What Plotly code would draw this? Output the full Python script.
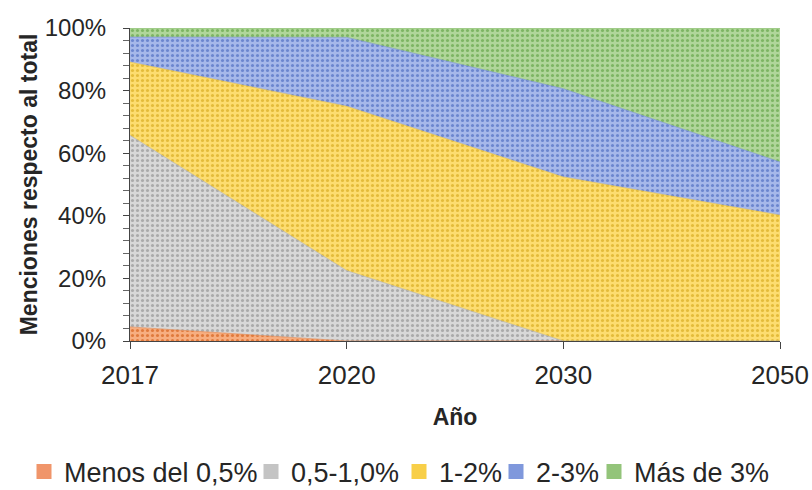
import plotly.graph_objects as go

# Share of mentions by range, per year (percent of total)
years = ["2017", "2020", "2030", "2050"]
series_names = ["Menos del 0,5%", "0,5-1,0%", "1-2%", "2-3%", "Más de 3%"]
menos_05 = [4.5, 0.0, 0.0, 0.0]
de_05_a_10 = [61.2, 22.5, 0.0, 0.0]
de_1_a_2 = [23.4, 52.5, 52.4, 40.2]
de_2_a_3 = [8.0, 22.0, 28.2, 17.0]
mas_de_3 = [2.9, 3.0, 19.4, 42.8]

y_ticks = [0, 20, 40, 60, 80, 100]
y_tick_labels = ["0%", "20%", "40%", "60%", "80%", "100%"]

values = [menos_05, de_05_a_10, de_1_a_2, de_2_a_3, mas_de_3]
bg_colors = ["#F7AE80", "#D8D8D8", "#FDDD70", "#A6B8EA", "#B0D69A"]
fg_colors = ["#E07A3C", "#AAAAAA", "#E4BC3A", "#6C86CF", "#7DB563"]
swatch_colors = ["#F0956A", "#C4C4C4", "#F8CF48", "#7F98DC", "#93C47A"]

# one single-entry legend per series, laid out in a row under the chart
legend_ids = ["legend", "legend2", "legend3", "legend4", "legend5"]
legend_left_px = [24, 251, 399, 496, 594]

font_family = "Liberation Sans, Arial, sans-serif"
ink = "#262626"

fig = go.Figure()
for name, vals, bg, fg, sw, lg in zip(series_names, values, bg_colors, fg_colors,
                                       swatch_colors, legend_ids):
    pattern = dict(shape=".", bgcolor=bg, fgcolor=fg, size=5, solidity=0.3,
                   fillmode="replace")
    # stacked area band
    fig.add_trace(go.Scatter(
        x=years, y=vals, name=name, mode="lines",
        stackgroup="one", legendgroup=name, showlegend=False,
        line=dict(width=0.6, color=fg),
        fillcolor=bg, fillpattern=pattern,
    ))
    # square legend swatch for the band
    fig.add_trace(go.Scatter(
        x=[None], y=[None], name=name, legendgroup=name, showlegend=True,
        legend=lg, mode="markers",
        marker=dict(symbol="square", size=15, color=sw, line=dict(width=0)),
    ))

legend_layouts = {}
for lg, left in zip(legend_ids, legend_left_px):
    legend_layouts[lg] = dict(
        orientation="h", xref="container", x=left / 812, xanchor="left",
        yref="container", y=0.037, yanchor="middle",
        font=dict(family=font_family, size=27, color=ink),
        itemwidth=30, bgcolor="rgba(0,0,0,0)",
    )

fig.update_layout(
    width=812, height=490,
    margin=dict(l=130, r=32, t=28, b=149, autoexpand=False),
    paper_bgcolor="white", plot_bgcolor="white",
    showlegend=True,
    **legend_layouts,
    xaxis=dict(
        type="category", range=[0, 3],
        showgrid=False, zeroline=False,
        showline=True, linecolor="#444444", linewidth=1.2,
        ticks="outside", ticklen=7, tickcolor="#444444",
        tickfont=dict(family=font_family, size=26, color=ink),
        ticklabelstandoff=4,
        title=dict(text="<b>Año</b>", font=dict(family=font_family, size=23, color=ink),
                   standoff=19),
    ),
    yaxis=dict(
        range=[0, 100], tickvals=y_ticks, ticktext=y_tick_labels,
        showgrid=False, zeroline=False,
        showline=True, linecolor="#444444", linewidth=1.2,
        ticks="outside", ticklen=6, tickcolor="#444444",
        minor=dict(dtick=4, tick0=0, ticks="outside", ticklen=6, tickcolor="#666666"),
        tickfont=dict(family=font_family, size=24, color=ink), ticklabelstandoff=12,
        title=dict(text="<b>Menciones respecto al total</b>",
                   font=dict(family=font_family, size=23, color=ink), standoff=0),
    ),
)

fig.write_html("out.html")
